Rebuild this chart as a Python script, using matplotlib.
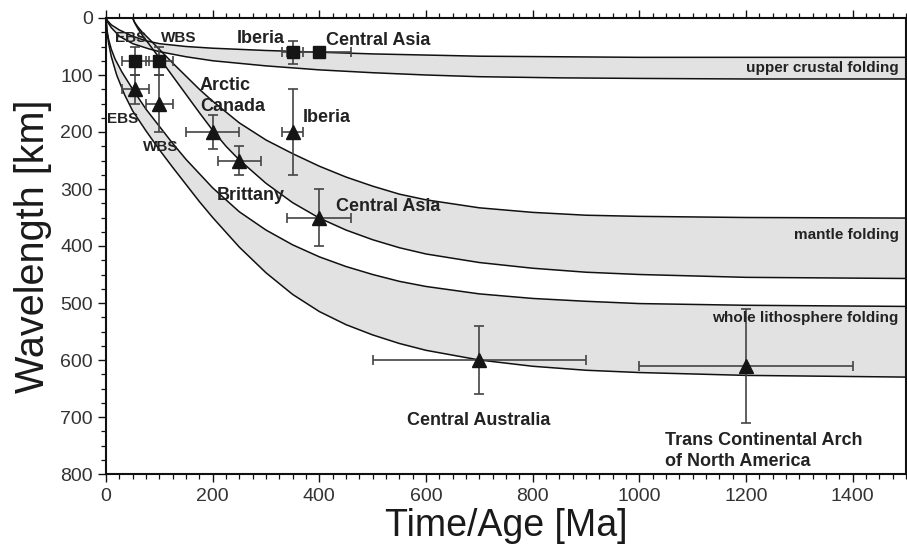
import numpy as np
import matplotlib
matplotlib.use("Agg")
import matplotlib.pyplot as plt
from matplotlib.ticker import MultipleLocator

plt.rcParams['font.family'] = ['Liberation Sans', 'DejaVu Sans']

# ---- model curves : time [Ma] vs wavelength [km]
uc_top_x = [0, 3, 10, 25, 50, 75, 100, 150, 200, 300, 400, 500, 600, 700, 850, 1000, 1500]
uc_top_y = [0, 5, 12, 21, 32, 40, 45, 50, 53, 57, 60, 63, 65, 67, 68, 69, 69]
uc_bot_x = [0, 3, 10, 25, 50, 80, 100, 150, 200, 300, 400, 500, 600, 700, 850, 1000, 1200, 1500]
uc_bot_y = [0, 7, 17, 32, 45, 54, 59, 68, 75, 84, 91, 96, 100, 103, 105, 106, 107, 107]

m_top_x = [50, 54, 60, 68, 80, 100, 125, 150, 175, 200, 250, 300, 350, 400, 450, 500,
           550, 600, 700, 800, 900, 1000, 1200, 1500]
m_top_y = [0, 8, 16, 25, 36, 55, 79, 102, 125, 146, 184, 214, 238, 260, 279, 295,
           309, 319, 333, 341, 346, 348, 350, 351]
m_bot_x = [50, 54, 60, 68, 80, 100, 125, 150, 175, 200, 225, 250, 300, 350, 400, 450,
           500, 550, 600, 700, 800, 900, 1000, 1200, 1500]
m_bot_y = [0, 9, 19, 30, 45, 70, 102, 134, 166, 197, 225, 249, 290, 324, 351, 372,
           389, 403, 414, 429, 439, 446, 450, 455, 457]

wl_top_x = [0, 2, 5, 10, 17, 30, 50, 75, 100, 125, 150, 200, 250, 300, 350, 400, 450,
            500, 550, 600, 700, 800, 900, 1000, 1200, 1500]
wl_top_y = [0, 22, 38, 55, 72, 95, 125, 160, 190, 220, 248, 298, 340, 372, 398, 419, 436,
            450, 462, 471, 484, 492, 497, 501, 504, 506]
wl_bot_x = [0, 2, 5, 10, 20, 35, 50, 75, 100, 125, 150, 175, 200, 250, 300, 350, 400,
            450, 500, 550, 600, 700, 800, 900, 1000, 1200, 1500]
wl_bot_y = [0, 25, 45, 68, 100, 135, 163, 198, 231, 262, 292, 322, 350, 402, 447, 485, 515,
            538, 556, 571, 583, 600, 611, 618, 622, 627, 630]

# ---- observations
sq_x = [55, 100, 350, 400]
sq_y = [75, 75, 60, 60]
sq_xerr = [25, 25, 20, 60]
sq_yerr = [25, 25, 20, 0]

tri_x = [55, 100, 200, 250, 350, 400, 700, 1200]
tri_y = [125, 150, 200, 250, 200, 350, 600, 610]
tri_xerr = [25, 25, 50, 40, 20, 60, 200, 200]
tri_yerr = [25, 50, 30, 25, 75, 50, 60, 100]

x_ticks = [0, 200, 400, 600, 800, 1000, 1200, 1400]
y_ticks = [0, 100, 200, 300, 400, 500, 600, 700, 800]

fig = plt.figure(figsize=(9.07, 5.59), dpi=100)
ax = fig.add_axes([106/907, (559-474)/559, 800/907, 456/559])

band = '#e2e2e2'
for (ax1, ay1, ax2, ay2) in [(uc_top_x, uc_top_y, uc_bot_x, uc_bot_y),
                             (m_top_x, m_top_y, m_bot_x, m_bot_y),
                             (wl_top_x, wl_top_y, wl_bot_x, wl_bot_y)]:
    px = np.concatenate([ax1, ax2[::-1]])
    py = np.concatenate([ay1, ay2[::-1]])
    ax.fill(px, py, color=band, lw=0, zorder=1)

for cx, cy in [(uc_top_x, uc_top_y), (uc_bot_x, uc_bot_y), (m_top_x, m_top_y),
               (m_bot_x, m_bot_y), (wl_top_x, wl_top_y), (wl_bot_x, wl_bot_y)]:
    ax.plot(cx, cy, color='#111111', lw=1.1, zorder=2, solid_joinstyle='round')

ecol = '#444444'
for i in range(len(sq_x)):
    ye = sq_yerr[i] if sq_yerr[i] > 0 else None
    ax.errorbar(sq_x[i], sq_y[i], xerr=sq_xerr[i], yerr=ye, fmt='none',
                ecolor=ecol, elinewidth=1.2, capsize=3.5, capthick=1.2, zorder=3)
ax.plot(sq_x, sq_y, ls='none', marker='s', ms=8, color='#151515', zorder=4)

ax.errorbar(tri_x, tri_y, xerr=tri_xerr, yerr=tri_yerr, fmt='none',
            ecolor=ecol, elinewidth=1.2, capsize=3.5, capthick=1.2, zorder=3)
ax.plot(tri_x, tri_y, ls='none', marker='^', ms=10, color='#151515', zorder=4)

tc = '#222222'
big = dict(fontsize=13, fontweight='bold', color=tc, va='baseline', zorder=5)
small = dict(fontsize=11, fontweight='bold', color=tc, va='baseline', zorder=5)
ax.text(17, 42, 'EBS', **small)
ax.text(103, 42, 'WBS', **small)
ax.text(2, 185, 'EBS', **small)
ax.text(69, 233, 'WBS', **small)
ax.text(245, 43, 'Iberia', **big)
ax.text(412, 47, 'Central Asia', **big)
ax.text(176, 127, 'Arctic', **big)
ax.text(176, 164, 'Canada', **big)
ax.text(369, 182, 'Iberia', **big)
ax.text(207, 319, 'Brittany', **big)
ax.text(432, 338, 'Central Asia', **big)
ax.text(565, 714, 'Central Australia', **big)
ax.text(1048, 749, 'Trans Continental Arch', **big)
ax.text(1048, 786, 'of North America', **big)
bandlab = dict(fontsize=11, fontweight='bold', color=tc, ha='right', va='center', zorder=5)
ax.text(1486, 88, 'upper crustal folding', **bandlab)
ax.text(1486, 381, 'mantle folding', **bandlab)
ax.text(1486, 527, 'whole lithosphere folding', **bandlab)

ax.set_xlim(0, 1500)
ax.set_ylim(800, 0)
ax.set_xticks(x_ticks)
ax.set_yticks(y_ticks)
ax.xaxis.set_minor_locator(MultipleLocator(25))
ax.yaxis.set_minor_locator(MultipleLocator(25))
ax.tick_params(axis='both', which='both', direction='out', colors='#111111',
               labelcolor='#333333', labelsize=14)
ax.tick_params(axis='x', which='both', top=True, bottom=True)
ax.tick_params(axis='y', which='both', left=True, right=False)
ax.tick_params(which='major', length=6, width=1.0)
ax.tick_params(which='minor', length=3.5, width=0.9)
ax.tick_params(axis='x', which='major', pad=4)
for s in ax.spines.values():
    s.set_linewidth(1.5)
    s.set_color('#111111')

ax.set_xlabel('Time/Age [Ma]', fontsize=27, color='#1a1a1a', labelpad=2)
ax.set_ylabel('Wavelength [km]', fontsize=28.5, color='#1a1a1a', labelpad=6)

fig.savefig('out.png', dpi=100)
